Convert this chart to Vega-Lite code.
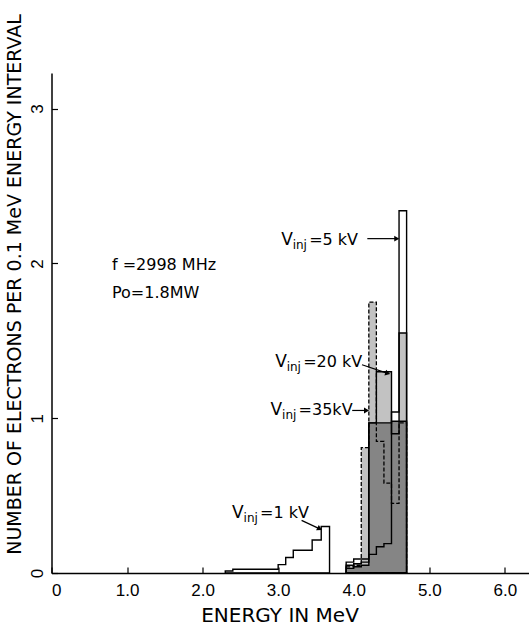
{
  "$schema": "https://vega.github.io/schema/vega-lite/v6.json",
  "width": 477.5,
  "height": 500,
  "autosize": {"type": "none"},
  "padding": {"left": 51.5, "top": 73, "right": 0, "bottom": 54},
  "background": "white",
  "config": {"view": {"stroke": null}, "font": "DejaVu Sans"},
  "datasets": {
    "hist": [
      {"series": "1 kV", "x": 2.3, "y": 0.013},
      {"series": "1 kV", "x": 2.4, "y": 0.024},
      {"series": "1 kV", "x": 3.0, "y": 0.054},
      {"series": "1 kV", "x": 3.1, "y": 0.10},
      {"series": "1 kV", "x": 3.2, "y": 0.147},
      {"series": "1 kV", "x": 3.45, "y": 0.213},
      {"series": "1 kV", "x": 3.57, "y": 0.30},
      {"series": "1 kV", "x": 3.68, "y": 0},
      {"series": "5 kV", "x": 3.9, "y": 0.07},
      {"series": "5 kV", "x": 4.0, "y": 0.09},
      {"series": "5 kV", "x": 4.1, "y": 0.09},
      {"series": "5 kV", "x": 4.2, "y": 0.12},
      {"series": "5 kV", "x": 4.3, "y": 0.17},
      {"series": "5 kV", "x": 4.4, "y": 0.19},
      {"series": "5 kV", "x": 4.5, "y": 1.04},
      {"series": "5 kV", "x": 4.6, "y": 2.34},
      {"series": "5 kV", "x": 4.7, "y": 0},
      {"series": "20 kV", "x": 3.9, "y": 0.05},
      {"series": "20 kV", "x": 4.0, "y": 0.06},
      {"series": "20 kV", "x": 4.1, "y": 0.07},
      {"series": "20 kV", "x": 4.2, "y": 0.97},
      {"series": "20 kV", "x": 4.3, "y": 1.30},
      {"series": "20 kV", "x": 4.4, "y": 1.30},
      {"series": "20 kV", "x": 4.5, "y": 0.90},
      {"series": "20 kV", "x": 4.6, "y": 1.55},
      {"series": "20 kV", "x": 4.7, "y": 0},
      {"series": "35 kV", "x": 3.9, "y": 0.04},
      {"series": "35 kV", "x": 4.0, "y": 0.05},
      {"series": "35 kV", "x": 4.1, "y": 0.81},
      {"series": "35 kV", "x": 4.2, "y": 1.75},
      {"series": "35 kV", "x": 4.3, "y": 0.85},
      {"series": "35 kV", "x": 4.4, "y": 0.58},
      {"series": "35 kV", "x": 4.5, "y": 0.45},
      {"series": "35 kV", "x": 4.6, "y": 0.97},
      {"series": "35 kV", "x": 4.7, "y": 0},
      {"series": "overlap", "x": 3.9, "y": 0.03},
      {"series": "overlap", "x": 4.0, "y": 0.04},
      {"series": "overlap", "x": 4.1, "y": 0.05},
      {"series": "overlap", "x": 4.2, "y": 0.97},
      {"series": "overlap", "x": 4.3, "y": 0.97},
      {"series": "overlap", "x": 4.4, "y": 0.97},
      {"series": "overlap", "x": 4.5, "y": 0.98},
      {"series": "overlap", "x": 4.6, "y": 0.98},
      {"series": "overlap", "x": 4.7, "y": 0}
    ],
    "labels": [
      {"id": "1 kV", "x": 2.39, "y": 0.39, "v": "V", "sub": "inj", "rest": "=1 kV"},
      {"id": "5 kV", "x": 3.04, "y": 2.15, "v": "V", "sub": "inj", "rest": "=5 kV"},
      {"id": "20 kV", "x": 2.96, "y": 1.36, "v": "V", "sub": "inj", "rest": "=20 kV"},
      {"id": "35 kV", "x": 2.9, "y": 1.05, "v": "V", "sub": "inj", "rest": "=35kV"}
    ],
    "arrows": [
      {"id": "1 kV", "x": 3.31, "y": 0.34, "x2": 3.55, "y2": 0.285},
      {"id": "5 kV", "x": 4.18, "y": 2.16, "x2": 4.57, "y2": 2.16},
      {"id": "20 kV", "x": 4.11, "y": 1.345, "x2": 4.45, "y2": 1.29},
      {"id": "35 kV", "x": 3.98, "y": 1.05, "x2": 4.17, "y2": 1.05}
    ],
    "notes": [
      {"x": 0.8, "y": 1.99, "text": "f =2998 MHz"},
      {"x": 0.8, "y": 1.81, "text": "Po=1.8MW"}
    ]
  },
  "encoding": {
    "x": {
      "field": "x", "type": "quantitative",
      "scale": {"domain": [0, 6.32], "nice": false, "zero": false},
      "axis": {
        "values": [0, 1, 2, 3, 4, 5, 6],
        "labelExpr": "datum.value == 0 ? '0' : format(datum.value, '.1f')",
        "grid": false, "domainColor": "black", "domainWidth": 1.5,
        "tickColor": "black", "tickSize": -6, "tickWidth": 1.2,
        "labelPadding": 15, "labelFontSize": 17, "labelFont": "Liberation Sans", "labelColor": "black",
        "title": "ENERGY IN MeV", "titleFontSize": 20, "titleFontWeight": "normal",
        "titleColor": "black", "titleX": 228, "titleY": 42.5, "titleBaseline": "middle"
      }
    },
    "y": {
      "field": "y", "type": "quantitative", "stack": null,
      "scale": {"domain": [0, 3.23], "nice": false},
      "axis": {
        "values": [0, 1, 2, 3],
        "grid": false, "domainColor": "black", "domainWidth": 1.5,
        "tickColor": "black", "tickSize": -6, "tickWidth": 1.2,
        "labelAngle": -90, "labelAlign": "center", "labelBaseline": "middle",
        "labelPadding": 20.5, "labelFontSize": 17, "labelFont": "Liberation Sans", "labelColor": "black",
        "title": "NUMBER OF ELECTRONS PER 0.1 MeV ENERGY INTERVAL",
        "titleFontSize": 19, "titleFontWeight": "normal", "titleColor": "black",
        "titleX": -37.5, "titleY": 211, "titleBaseline": "middle", "titleAngle": -90
      }
    }
  },
  "layer": [
    {
      "data": {"name": "hist"},
      "transform": [{"filter": "datum.series == '5 kV'"}],
      "mark": {"type": "area", "interpolate": "step-after", "fill": "white"}
    },
    {
      "data": {"name": "hist"},
      "transform": [{"filter": "datum.series == '35 kV' || datum.series == '20 kV'"}],
      "mark": {"type": "area", "interpolate": "step-after", "fill": "#c2c2c2"},
      "encoding": {"detail": {"field": "series"}}
    },
    {
      "data": {"name": "hist"},
      "transform": [{"filter": "datum.series == 'overlap'"}],
      "mark": {"type": "area", "interpolate": "step-after", "fill": "#858585"}
    },
    {
      "data": {"name": "hist"},
      "transform": [{"filter": "datum.series == '5 kV' || datum.series == '20 kV' || datum.series == 'overlap' || datum.series == '1 kV'"}],
      "mark": {"type": "area", "interpolate": "step-after", "fill": "transparent", "stroke": "black", "strokeWidth": 1.4},
      "encoding": {"detail": {"field": "series"}}
    },
    {
      "data": {"name": "hist"},
      "transform": [{"filter": "datum.series == '35 kV'"}],
      "mark": {"type": "area", "interpolate": "step-after", "fill": "transparent", "stroke": "black", "strokeWidth": 1.3, "strokeDash": [4, 2]}
    },
    {
      "data": {"name": "arrows"},
      "mark": {"type": "rule", "color": "black", "strokeWidth": 1.2},
      "encoding": {"x2": {"field": "x2"}, "y2": {"field": "y2"}}
    },
    {
      "data": {"name": "arrows"},
      "transform": [{"filter": "datum.id == '5 kV' || datum.id == '35 kV'"}],
      "mark": {"type": "point", "shape": "triangle-right", "filled": true, "color": "black", "size": 35, "opacity": 1},
      "encoding": {"x": {"field": "x2", "type": "quantitative"}, "y": {"field": "y2", "type": "quantitative"}}
    },
    {
      "data": {"name": "arrows"},
      "transform": [{"filter": "datum.id == '20 kV'"}],
      "mark": {"type": "point", "shape": "triangle-right", "filled": true, "color": "black", "size": 35, "opacity": 1, "angle": 17},
      "encoding": {"x": {"field": "x2", "type": "quantitative"}, "y": {"field": "y2", "type": "quantitative"}}
    },
    {
      "data": {"name": "arrows"},
      "transform": [{"filter": "datum.id == '1 kV'"}],
      "mark": {"type": "point", "shape": "triangle-right", "filled": true, "color": "black", "size": 35, "opacity": 1, "angle": 27},
      "encoding": {"x": {"field": "x2", "type": "quantitative"}, "y": {"field": "y2", "type": "quantitative"}}
    },
    {
      "data": {"name": "labels"},
      "mark": {"type": "text", "align": "left", "baseline": "middle", "fontSize": 17, "color": "black"},
      "encoding": {"text": {"field": "v"}}
    },
    {
      "data": {"name": "labels"},
      "mark": {"type": "text", "align": "left", "baseline": "middle", "fontSize": 12, "dx": 11.5, "dy": 5, "color": "black"},
      "encoding": {"text": {"field": "sub"}}
    },
    {
      "data": {"name": "labels"},
      "mark": {"type": "text", "align": "left", "baseline": "middle", "fontSize": 16, "dx": 28, "color": "black"},
      "encoding": {"text": {"field": "rest"}}
    },
    {
      "data": {"name": "notes"},
      "mark": {"type": "text", "align": "left", "baseline": "middle", "fontSize": 16, "color": "black"},
      "encoding": {"text": {"field": "text"}}
    }
  ]
}
